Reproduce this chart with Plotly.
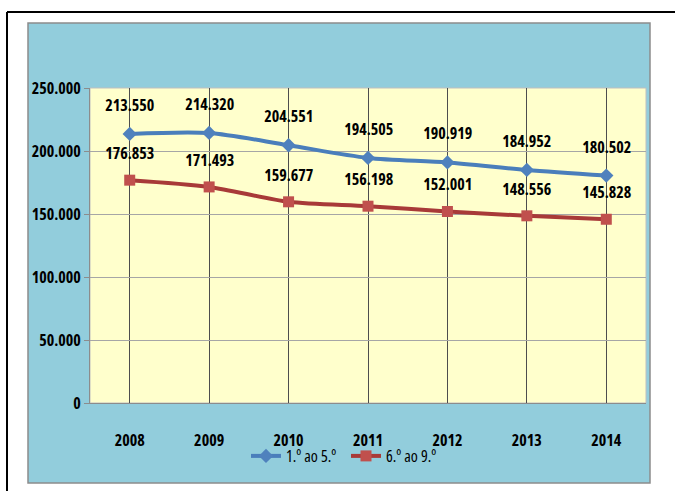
import plotly.graph_objects as go

years = ["2008", "2009", "2010", "2011", "2012", "2013", "2014"]
serie_1a5 = [213550, 214320, 204551, 194505, 190919, 184952, 180502]
serie_6a9 = [176853, 171493, 159677, 156198, 152001, 148556, 145828]
name_1a5 = "1.º ao 5.º"
name_6a9 = "6.º ao 9.º"
y_ticks = [0, 50000, 100000, 150000, 200000, 250000]

FONT = "Open Sans"

def fmt(v):
    return f"{v:,}".replace(",", ".")

fig = go.Figure()
fig.add_trace(go.Scatter(
    x=years, y=serie_1a5, name=name_1a5, mode="lines+markers",
    line=dict(color="#4A7EBB", width=4, shape="spline", smoothing=0.8),
    marker=dict(symbol="diamond", size=11, color="#4F81BD"),
))
fig.add_trace(go.Scatter(
    x=years, y=serie_6a9, name=name_6a9, mode="lines+markers",
    line=dict(color="#A83A38", width=4, shape="spline", smoothing=0.8),
    marker=dict(symbol="square", size=11, color="#C0504D"),
))

annotations = []
for i, v in enumerate(serie_1a5):
    annotations.append(dict(x=i, y=v, xref="x", yref="y", text=fmt(v), showarrow=False,
                            yshift=29, font=dict(family=FONT, size=16, color="black", weight="bold")))
for i, v in enumerate(serie_6a9):
    annotations.append(dict(x=i, y=v, xref="x", yref="y", text=fmt(v), showarrow=False,
                            yshift=27, font=dict(family=FONT, size=16, color="black", weight="bold")))

L, R, T, B = 90, 646, 88, 403
W, H = 675, 491
pw, ph = R - L, B - T
def px(x):
    return (x - L) / pw
def py(y):
    return (B - y) / ph

shapes = [
    dict(type="rect", xref="paper", yref="paper", x0=px(28), x1=px(650), y0=py(483), y1=py(23),
         fillcolor="#92CDDC", line=dict(color="#8C8C8C", width=1.5), layer="below"),
    dict(type="rect", xref="paper", yref="paper", x0=0, x1=1, y0=0, y1=1,
         fillcolor="#FFFFCC", line=dict(color="#BFBFBF", width=1), layer="below"),
    dict(type="line", xref="paper", yref="paper", x0=px(7), x1=px(700), y0=py(12), y1=py(12),
         line=dict(color="black", width=2)),
    dict(type="line", xref="paper", yref="paper", x0=px(7), x1=px(7), y0=py(12), y1=py(500),
         line=dict(color="black", width=2)),
]

fig.update_layout(
    width=W, height=H,
    margin=dict(l=L, r=W - R, t=T, b=H - B),
    paper_bgcolor="white",
    plot_bgcolor="rgba(0,0,0,0)",
    separators=",.",
    font=dict(family=FONT, size=16, color="black"),
    showlegend=True,
    legend=dict(orientation="h", x=px(246), y=py(456), xanchor="left", yanchor="middle",
                bgcolor="rgba(0,0,0,0)", font=dict(family=FONT, size=16, color="black", weight=500),
                itemwidth=30, tracegroupgap=0, entrywidth=55, entrywidthmode="pixels"),
    shapes=shapes,
    annotations=annotations,
    xaxis=dict(
        type="category", range=[-0.5, 6.5], showgrid=True, gridcolor="#4D4D4D", gridwidth=1,
        showline=True, linecolor="#8C8C8C", ticks="", ticklabelstandoff=23,
        tickfont=dict(family=FONT, size=16, color="black", weight="bold"), zeroline=False,
    ),
    yaxis=dict(
        range=[0, 250000], tickvals=y_ticks, tickformat=",d", showgrid=True,
        gridcolor="#A6A6A6", gridwidth=1, showline=True, linecolor="#8C8C8C",
        ticks="outside", ticklen=5, tickcolor="#8C8C8C", zeroline=False,
        tickfont=dict(family=FONT, size=16, color="black", weight="bold"),
    ),
)

post = ("var s=document.createElement('style');"
        "s.textContent='html,body{margin:0;padding:0;overflow:hidden} svg text{font-stretch:75% !important;}';"
        "document.head.appendChild(s);")
fig.write_html("out.html", post_script=post, config={"displayModeBar": False})
